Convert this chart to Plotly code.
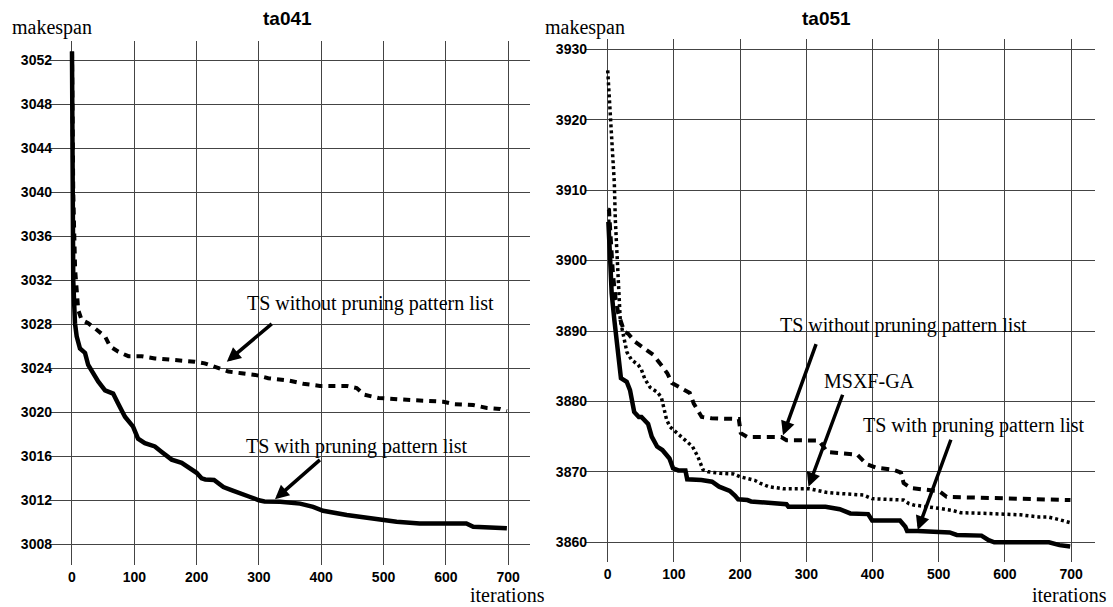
import plotly.graph_objects as go

# ---------------- data ----------------
ta041_title = "ta041"
ta051_title = "ta051"
x_ticks = [0, 100, 200, 300, 400, 500, 600, 700]
ta041_y_ticks = [3008, 3012, 3016, 3020, 3024, 3028, 3032, 3036, 3040, 3044, 3048, 3052]
ta051_y_ticks = [3860, 3870, 3880, 3890, 3900, 3910, 3920, 3930]

# ta041 - TS with pruning pattern list (solid)
ta041_with_iter = [0, 1, 2, 4.8, 7.5, 12.8, 20.9, 26, 31.6, 42, 53, 66, 74, 85, 98, 106, 117, 133,
                   144, 160, 176, 192, 200, 208, 214, 228, 243, 257, 268, 286, 300, 309, 334, 366,
                   387, 403, 441, 473, 494, 521, 558, 633, 644, 687, 698]
ta041_with_ms = [3052.8, 3040, 3032, 3028.1, 3026.9, 3025.8, 3025.4, 3024.3, 3023.7, 3022.8, 3022.0,
                 3021.7, 3020.8, 3019.6, 3018.7, 3017.6, 3017.2, 3016.9, 3016.4, 3015.7, 3015.4,
                 3014.8, 3014.5, 3014.0, 3013.9, 3013.85, 3013.2, 3012.9, 3012.7, 3012.3, 3012.0,
                 3011.9, 3011.87, 3011.7, 3011.4, 3011.05, 3010.66, 3010.42, 3010.27, 3010.06,
                 3009.9, 3009.9, 3009.6, 3009.55, 3009.45]

# ta041 - TS without pruning pattern list (dashed)
ta041_without_iter = [0, 2, 5, 8, 10, 15.5, 26, 39.6, 53, 61, 74.4, 90.5, 112, 133, 155, 176, 197,
                      213, 235, 251, 272, 294, 315, 347, 371, 398, 441, 457, 469, 492, 548, 596,
                      612, 644, 666, 687, 698]
ta041_without_ms = [3052.8, 3040, 3033, 3031, 3029.3, 3028.4, 3028.1, 3027.5, 3026.9, 3026.0,
                    3025.5, 3025.1, 3025.1, 3024.9, 3024.8, 3024.75, 3024.6, 3024.45, 3024.0,
                    3023.7, 3023.55, 3023.4, 3023.1, 3022.9, 3022.6, 3022.4, 3022.4, 3022.2,
                    3021.6, 3021.3, 3021.1, 3020.96, 3020.75, 3020.66, 3020.4, 3020.3, 3020.1]

# ta051 - TS with pruning pattern list (solid)
ta051_with_iter = [0, 1, 3.5, 6, 10, 13.6, 17, 20, 28.7, 33.7, 40, 47, 51, 61, 66.5, 74.6, 82.6, 88,
                   93.3, 98.7, 106.7, 117.4, 120.1, 141.5, 157.6, 168.3, 184.4, 192.5, 197, 211,
                   216.5, 270, 273, 329, 350.5, 366.5, 393.3, 399.5, 441.5, 449.6, 452.3, 468.3,
                   516.5, 527.2, 564.6, 575.4, 584, 666.6, 682.5, 698.6]
ta051_with_ms = [3905.5, 3905.5, 3900.55, 3895.35, 3891.6, 3888.7, 3885.9, 3883.3, 3882.8, 3881.6,
                 3878.5, 3877.8, 3877.8, 3876.8, 3875.0, 3873.6, 3873.1, 3872.4, 3871.9, 3870.5,
                 3870.2, 3870.2, 3868.95, 3868.85, 3868.6, 3867.9, 3867.3, 3866.6, 3866.1, 3866.0,
                 3865.8, 3865.4, 3865.05, 3865.05, 3864.7, 3864.1, 3864.0, 3863.1, 3863.1, 3862.2,
                 3861.6, 3861.6, 3861.4, 3861.05, 3860.95, 3860.3, 3860.0, 3860.0, 3859.6, 3859.4]

# ta051 - TS without pruning pattern list (dashed)
ta051_without_iter = [0, 2, 4, 8, 12, 16, 25, 31, 41, 56, 69, 79, 90, 97, 112, 124, 130, 142, 157,
                      198, 201, 211, 262, 270, 319, 332, 377, 391, 405, 431, 443, 447, 458, 501,
                      512, 699]
ta051_without_ms = [3907.3, 3907.2, 3904, 3898, 3894.5, 3892.5, 3889.9, 3889.6, 3888.5, 3887.5,
                    3886.6, 3885.4, 3884.0, 3882.6, 3881.9, 3881.2, 3879.7, 3877.8, 3877.6, 3877.5,
                    3875.5, 3874.95, 3874.95, 3874.5, 3874.45, 3872.8, 3872.45, 3871.1, 3870.6,
                    3870.3, 3869.9, 3868.4, 3867.7, 3867.25, 3866.45, 3866.0]

# ta051 - MSXF-GA (dotted)
ta051_ga_iter = [0, 2, 4, 7.6, 10, 11.5, 14.5, 17, 19, 25, 29, 36, 46, 51, 56, 64, 75, 81, 85, 89,
                 94, 104, 117, 128, 136, 144, 152, 170, 190, 200, 222, 230, 243, 265, 305, 330, 340,
                 387, 399, 447, 455, 462, 490, 502, 522, 533, 572, 623, 651, 665, 683, 698]
ta051_ga_ms = [3927, 3924, 3920.4, 3916.6, 3911, 3905.8, 3900.1, 3895.4, 3891.5, 3888.8, 3887,
               3885.9, 3885.2, 3884.5, 3883.2, 3882, 3881.3, 3880.6, 3879, 3877.4, 3876.4, 3875.5,
               3874.5, 3873.6, 3872.2, 3870.3, 3870, 3869.8, 3869.7, 3869.3, 3868.8, 3868.4,
               3867.9, 3867.6, 3867.6, 3867.1, 3867.0, 3866.7, 3866.2, 3866.0, 3865.5, 3865.3,
               3865.0, 3864.8, 3864.5, 3864.2, 3864.1, 3863.9, 3863.6, 3863.6, 3863.2, 3862.8]

label_without = "TS without pruning pattern list"
label_with = "TS with pruning pattern list"
label_ga = "MSXF-GA"

# ---------------- figure ----------------
W, H = 1113, 607
SERIF = "Liberation Serif, Times New Roman, serif"
SANS = "Liberation Sans, Arial, Helvetica, sans-serif"

fig = go.Figure()

fig.add_trace(go.Scatter(x=ta041_without_iter, y=ta041_without_ms, mode="lines",
                         line=dict(color="black", width=4, dash="7px,6px"),
                         xaxis="x", yaxis="y", showlegend=False))
fig.add_trace(go.Scatter(x=ta041_with_iter, y=ta041_with_ms, mode="lines",
                         line=dict(color="black", width=4.5),
                         xaxis="x", yaxis="y", showlegend=False))

fig.add_trace(go.Scatter(x=ta051_without_iter, y=ta051_without_ms, mode="lines",
                         line=dict(color="black", width=4, dash="8px,6px"),
                         xaxis="x2", yaxis="y2", showlegend=False))
fig.add_trace(go.Scatter(x=ta051_ga_iter, y=ta051_ga_ms, mode="lines",
                         line=dict(color="black", width=3.5, dash="3px,3px"),
                         xaxis="x2", yaxis="y2", showlegend=False))
fig.add_trace(go.Scatter(x=ta051_with_iter, y=ta051_with_ms, mode="lines",
                         line=dict(color="black", width=4.5),
                         xaxis="x2", yaxis="y2", showlegend=False))

grid = "#444"
tickfont = dict(family=SANS, size=14, color="black", weight="bold")
xcommon = dict(tickvals=x_ticks, showgrid=True, gridcolor=grid, gridwidth=1, zeroline=False,
               showline=False, ticks="", tickfont=tickfont, ticklabelstandoff=2, fixedrange=True)
ycommon = dict(showgrid=True, gridcolor=grid, gridwidth=1, zeroline=False, showline=False,
               ticks="", tickfont=tickfont, ticklabelstandoff=-3, fixedrange=True)

fig.update_layout(
    width=W, height=H, autosize=False,
    margin=dict(l=0, r=0, t=0, b=0),
    paper_bgcolor="white", plot_bgcolor="white",
    xaxis=dict(domain=[50 / W, 530 / W], range=[-35.3, 735.1], anchor="y", **xcommon),
    yaxis=dict(domain=[1 - 565 / H, 1 - 41 / H], range=[3006.12, 3053.75], anchor="x",
               tickvals=ta041_y_ticks, **ycommon),
    xaxis2=dict(domain=[585 / W, 1095 / W], range=[-34.3, 736.1], anchor="y2", **xcommon),
    yaxis2=dict(domain=[1 - 562.3 / H, 1 - 38.7 / H], range=[3857.16, 3931.5], anchor="x2",
                tickvals=ta051_y_ticks, **ycommon),
)

ann = []


def P(px, py):
    return px / W, 1 - py / H


for txt, (px, py), font, xa in [
    (ta041_title, (287, 18), dict(family=SANS, size=19, color="black", weight="bold"), "center"),
    (ta051_title, (826.5, 18), dict(family=SANS, size=19, color="black", weight="bold"), "center"),
    ("makespan", (10, 28), dict(family=SERIF, size=20, color="black"), "left"),
    ("makespan", (543, 28), dict(family=SERIF, size=20, color="black"), "left"),
]:
    x, y = P(px, py)
    ann.append(dict(text=txt, x=x, y=y, xref="paper", yref="paper", xanchor=xa,
                    yanchor="middle", showarrow=False, font=font))

# x-axis unit labels, placed in a compact box at the bottom edge
for px in (546, 1108):
    ann.append(dict(text="iterations", x=px / W, y=0, xref="paper", yref="paper",
                    xanchor="right", yanchor="bottom", height=19, borderpad=0, valign="bottom",
                    showarrow=False, font=dict(family=SERIF, size=20, color="black")))

lab_font = dict(family=SERIF, size=20, color="black")
for txt, x, y, xr, yr in [
    (label_without, 478.3, 3029.9, "x", "y"),
    (label_with, 456.7, 3016.85, "x", "y"),
    (label_without, 446.8, 3890.85, "x2", "y2"),
    (label_ga, 395.5, 3882.97, "x2", "y2"),
    (label_with, 553.2, 3876.59, "x2", "y2"),
]:
    ann.append(dict(text=txt, x=x, y=y, xref=xr, yref=yr, xanchor="center", yanchor="middle",
                    showarrow=False, font=lab_font))

for hx, hy, tx, ty, xr, yr in [
    (248.5, 3024.6, 323, 3028.15, "x", "y"),
    (325.8, 3012.1, 400.3, 3015.8, "x", "y"),
    (264.8, 3875.2, 315.6, 3888.35, "x2", "y2"),
    (303.3, 3867.9, 355.7, 3881.16, "x2", "y2"),
    (468.3, 3861.75, 519.2, 3874.77, "x2", "y2"),
]:
    ann.append(dict(text="", x=hx, y=hy, ax=tx, ay=ty, xref=xr, yref=yr, axref=xr, ayref=yr,
                    showarrow=True, arrowhead=2, arrowsize=0.8, arrowwidth=3.5,
                    arrowcolor="black"))

fig.update_layout(annotations=ann)
fig.write_html("out.html", config={"displayModeBar": False},
               post_script="document.body.style.margin='0';document.body.style.padding='0';")
